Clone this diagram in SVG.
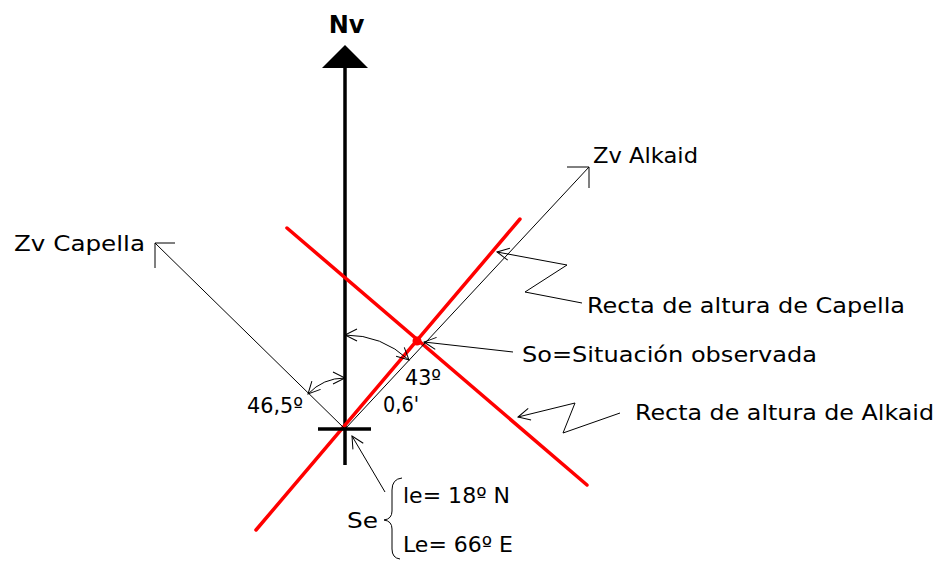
<svg xmlns="http://www.w3.org/2000/svg" width="939" height="561" viewBox="0 0 939 561">
<defs>
<marker id="chev" markerUnits="userSpaceOnUse" markerWidth="30" markerHeight="30" refX="0" refY="0" viewBox="-15 -15 30 30" orient="auto-start-reverse" overflow="visible">
<path d="M-12,-6 L0,0 L-12,6" fill="none" stroke="#000" stroke-width="1"/>
</marker>
</defs>
<style>
text{font-family:"DejaVu Sans","Liberation Sans",sans-serif;font-size:22px;fill:#000}
.thin{fill:none;stroke:#000;stroke-width:1}
.ptr{fill:none;stroke:#000;stroke-width:1;marker-end:url(#chev)}
.arc{fill:none;stroke:#000;stroke-width:1;marker-start:url(#chev);marker-end:url(#chev)}
.red{fill:none;stroke:#ff0000;stroke-width:3.5;stroke-linecap:round}
.heavy{fill:none;stroke:#000;stroke-width:3.5}
</style>
<rect width="939" height="561" fill="#fff"/>

<g id="axis-nv">
<line class="heavy" x1="345" y1="66" x2="345" y2="465"/>
<polygon points="345,45 322,68 368,68" fill="#000"/>
<text x="346.5" y="33" text-anchor="middle" style="font-weight:bold;font-size:24px">Nv</text>
</g>

<g id="recta-capella">
<line class="red" x1="256" y1="530" x2="520" y2="219"/>
</g>
<g id="recta-alkaid">
<line class="red" x1="287" y1="228" x2="587" y2="485"/>
</g>

<g id="se-point">
<line class="heavy" x1="318" y1="429" x2="371" y2="429"/>
</g>

<g id="so-point">
<circle cx="417" cy="341" r="4.5" fill="#ff0000"/>
</g>

<g id="connectors">
<line class="thin" x1="345" y1="429" x2="155" y2="243"/>
<path class="thin" d="M175,243 L155,243 L155,268"/>
<line class="thin" x1="345" y1="429" x2="589" y2="167"/>
<path class="thin" d="M567,167 L589,167 L589,188"/>
<path class="arc" d="M308,394 A51,51 0 0 1 345,378"/>
<path class="arc" d="M345,335 A94,94 0 0 1 409,360"/>
<path class="ptr" d="M513,352 L424,342"/>
<path class="ptr" d="M582,303 L525,292 L567,265 L497,252"/>
<path class="ptr" d="M620,413 L563,433 L575,403 L518,417"/>
<path class="ptr" d="M385,492 L352,436"/>
<path class="thin" d="M402,478 Q392,479 392,490 L392,511 Q392,519 384,520 Q392,521 392,529 L392,549 Q392,558 400,559"/>
</g>

<g id="label-zv-capella"><text x="14" y="251" textLength="131" lengthAdjust="spacingAndGlyphs">Zv Capella</text></g>
<g id="label-zv-alkaid"><text x="593" y="163" textLength="105" lengthAdjust="spacingAndGlyphs">Zv Alkaid</text></g>
<g id="label-recta-capella"><text x="587" y="313" textLength="318" lengthAdjust="spacingAndGlyphs">Recta de altura de Capella</text></g>
<g id="label-so"><text x="522" y="362" textLength="295" lengthAdjust="spacingAndGlyphs">So=Situación observada</text></g>
<g id="label-recta-alkaid"><text x="635" y="420" textLength="299" lengthAdjust="spacingAndGlyphs">Recta de altura de Alkaid</text></g>
<g id="label-angle-capella"><text x="247" y="413" textLength="56" lengthAdjust="spacingAndGlyphs">46,5º</text></g>
<g id="label-angle-alkaid"><text x="405" y="385" textLength="36" lengthAdjust="spacingAndGlyphs">43º</text></g>
<g id="label-distance"><text x="383" y="412" textLength="36" lengthAdjust="spacingAndGlyphs">0,6'</text></g>
<g id="label-se">
<text x="347" y="528" textLength="31" lengthAdjust="spacingAndGlyphs">Se</text>
<text x="403" y="503" textLength="107" lengthAdjust="spacingAndGlyphs">le= 18º N</text>
<text x="403" y="552" textLength="110" lengthAdjust="spacingAndGlyphs">Le= 66º E</text>
</g>
</svg>
